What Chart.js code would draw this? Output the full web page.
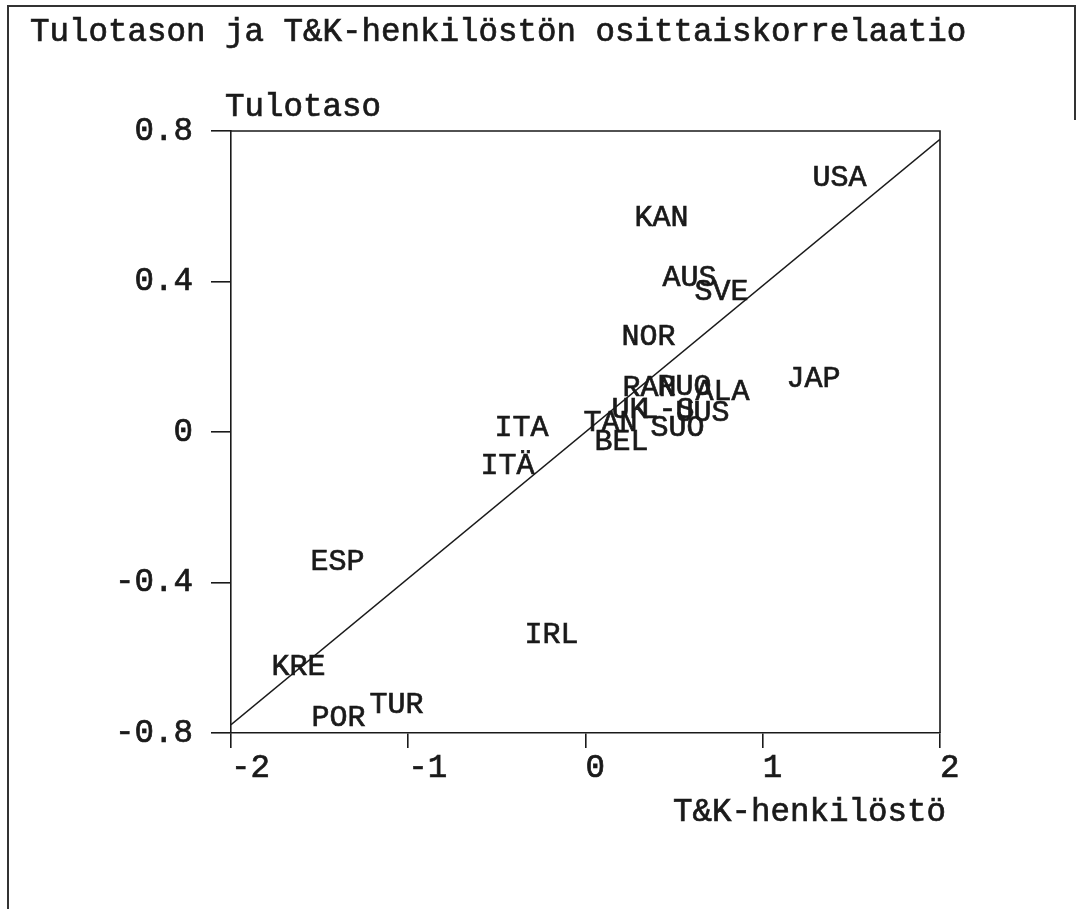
<!DOCTYPE html>
<html>
<head>
<meta charset="utf-8">
<script src="https://cdn.jsdelivr.net/npm/chart.js@4.4.1/dist/chart.umd.min.js"></script>
<style>
  html, body { margin: 0; padding: 0; background: #fff; }
  #wrap { width: 1078px; height: 909px; position: relative; }
</style>
</head>
<body>
<div id="wrap"><canvas id="c" width="1078" height="909"></canvas></div>
<script>
// ---- data ----
const chartTitle = 'Tulotason ja T&K-henkilöstön osittaiskorrelaatio';
const yAxisTitle = 'Tulotaso';
const xAxisTitle = 'T&K-henkilöstö';

const countryLabels = ['USA','KAN','AUS','SVE','NOR','RAN','RUO','ALA','JAP','UK','L-S','UUS','TAN','SUO','BEL','ITA','ITÄ','ESP','IRL','KRE','POR','TUR'];
const xValues = [1.433, 0.429, 0.587, 0.767, 0.355, 0.361, 0.559, 0.773, 1.286, 0.248, 0.463, 0.660, 0.141, 0.519, 0.203, -0.361, -0.440, -1.399, -0.192, -1.619, -1.394, -1.066];
const yValues = [0.675, 0.568, 0.409, 0.372, 0.252, 0.117, 0.120, 0.106, 0.141, 0.058, 0.058, 0.050, 0.024, 0.011, -0.027, 0.011, -0.090, -0.345, -0.539, -0.624, -0.760, -0.725];

const fitLineX = [-2, 2];
const fitLineY = [-0.778, 0.778];

const xTickValues = [-2, -1, 0, 1, 2];
const xTickLabels = ['-2', '-1', '0', '1', '2'];
const yTickValues = [-0.8, -0.4, 0, 0.4, 0.8];
const yTickLabels = ['-0.8', '-0.4', '0', '0.4', '0.8'];

// ---- styling ----
const FONT = '"Liberation Mono", "DejaVu Sans Mono", monospace';
const INK = '#1a1a1a';
const STROKE_W = 0.7;

const pointData = xValues.map((x, i) => ({ x: x, y: yValues[i] }));
const lineData = fitLineX.map((x, i) => ({ x: x, y: fitLineY[i] }));

function drawText(ctx, txt, x, y) {
  ctx.fillText(txt, x, y);
  ctx.strokeText(txt, x, y);
}

const labelPlugin = {
  id: 'pointLabels',
  afterDatasetsDraw(chart) {
    const ctx = chart.ctx;
    const meta = chart.getDatasetMeta(0);
    ctx.save();
    ctx.font = '30px ' + FONT;
    ctx.fillStyle = INK;
    ctx.strokeStyle = INK;
    ctx.lineWidth = STROKE_W;
    ctx.textAlign = 'center';
    ctx.textBaseline = 'middle';
    meta.data.forEach((el, i) => {
      drawText(ctx, countryLabels[i], el.x, el.y);
    });
    ctx.restore();
  }
};

const framePlugin = {
  id: 'frame',
  beforeDraw(chart) {
    const ctx = chart.ctx;
    ctx.save();
    ctx.fillStyle = '#fff';
    ctx.fillRect(0, 0, chart.width, chart.height);
    ctx.strokeStyle = '#333';
    ctx.lineWidth = 2;
    ctx.beginPath();
    ctx.moveTo(8, 909); ctx.lineTo(8, 6); ctx.lineTo(1075, 6); ctx.lineTo(1075, 120);
    ctx.stroke();
    ctx.restore();
  },
  afterDraw(chart) {
    const ctx = chart.ctx;
    const a = chart.chartArea;
    ctx.save();
    ctx.strokeStyle = INK;
    ctx.lineWidth = 1.6;
    ctx.beginPath();
    ctx.moveTo(a.left, a.top); ctx.lineTo(a.right, a.top); ctx.lineTo(a.right, a.bottom);
    ctx.stroke();
    // titles
    ctx.fillStyle = INK;
    ctx.lineWidth = STROKE_W;
    ctx.textBaseline = 'middle';
    ctx.font = '32.5px ' + FONT;
    ctx.textAlign = 'left';
    drawText(ctx, chartTitle, 30, 32);
    drawText(ctx, yAxisTitle, a.left - 6, 107);
    ctx.textAlign = 'right';
    drawText(ctx, xAxisTitle, a.right + 6, 812);
    ctx.restore();
  }
};

new Chart(document.getElementById('c'), {
  type: 'scatter',
  data: {
    datasets: [
      {
        label: 'maat',
        data: pointData,
        pointRadius: 0,
        pointHoverRadius: 0,
        showLine: false
      },
      {
        label: 'sovite',
        data: lineData,
        showLine: true,
        borderColor: INK,
        borderWidth: 1.6,
        pointRadius: 0,
        fill: false
      }
    ]
  },
  options: {
    responsive: false,
    animation: false,
    events: [],
    layout: { padding: { left: 31, right: 138, top: 131, bottom: 96 } },
    plugins: {
      legend: { display: false },
      tooltip: { enabled: false },
      title: { display: false }
    },
    scales: {
      x: {
        type: 'linear',
        min: -2, max: 2,
        afterFit(s) { s.height = 80; },
        afterBuildTicks(s) { s.ticks = xTickValues.map(v => ({ value: v })); },
        ticks: {
          align: 'start',
          padding: 1,
          color: INK,
          textStrokeColor: INK,
          textStrokeWidth: STROKE_W,
          font: { family: FONT, size: 32.5 },
          callback: (v) => xTickLabels[xTickValues.indexOf(v)]
        },
        grid: { drawOnChartArea: false, tickLength: 15, color: INK, lineWidth: 1.6 },
        border: { display: true, color: INK, width: 1.6 }
      },
      y: {
        type: 'linear',
        min: -0.8, max: 0.8,
        afterFit(s) { s.width = 200; },
        afterBuildTicks(s) { s.ticks = yTickValues.map(v => ({ value: v })); },
        ticks: {
          padding: 18,
          color: INK,
          textStrokeColor: INK,
          textStrokeWidth: STROKE_W,
          font: { family: FONT, size: 32.5 },
          callback: (v) => yTickLabels[yTickValues.indexOf(v)]
        },
        grid: { drawOnChartArea: false, tickLength: 20, color: INK, lineWidth: 1.6 },
        border: { display: true, color: INK, width: 1.6 }
      }
    }
  },
  plugins: [framePlugin, labelPlugin]
});
</script>
</body>
</html>
